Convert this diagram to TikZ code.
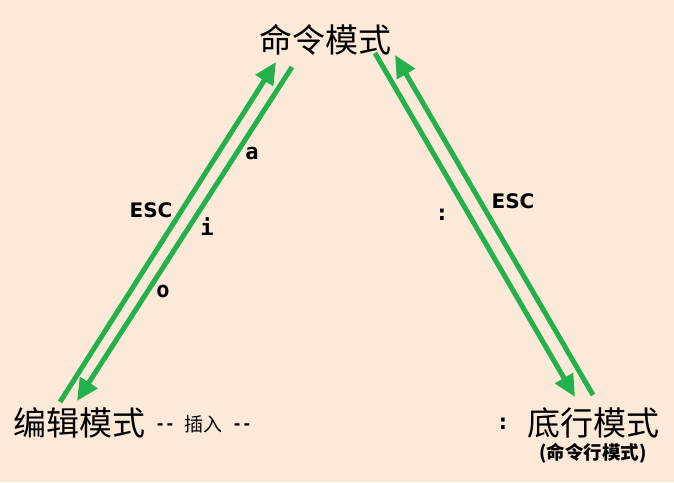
\documentclass[tikz,border=0pt]{standalone}
\usepackage{fontspec}
\newfontfamily\cjk{Noto Sans CJK SC}
\newfontfamily\keyfont{DejaVu Sans}
\newfontfamily\monofont{DejaVu Sans Mono}
\usetikzlibrary{arrows.meta}
\definecolor{peach}{RGB}{253,233,215}
\definecolor{vigreen}{RGB}{34,177,76}
\tikzset{
  modus/.style={font=\cjk\fontsize{33}{33}\selectfont, inner sep=0pt},
  keyname/.style={font=\keyfont\bfseries\fontsize{20}{20}\selectfont, inner sep=0pt},
  keychar/.style={font=\monofont\bfseries\fontsize{22}{22}\selectfont, inner sep=0pt},
  dashes/.style={font=\monofont\bfseries\fontsize{16}{16}\selectfont, inner sep=0pt},
  switch/.style={draw=vigreen, line width=5pt, -{Triangle[length=22pt, width=20pt]}}
}
\begin{document}
\begin{tikzpicture}[x=1pt, y=-1pt]
% Set the background
\fill[peach] (0, 0) rectangle (674, 482);
\useasboundingbox (0, 0) rectangle (674, 482);

% The three modes
\node[modus] (cmd) at (325, 40) {命令模式};
\node[modus] (edit) at (79, 423) {编辑模式};
\node[dashes] (insl) at (165, 427) {-{}-};
\node[font=\cjk\fontsize{19}{19}\selectfont, inner sep=0pt] (ins) at (203, 424) {插入};
\node[dashes] (insr) at (242, 427) {-{}-};
\node[keychar] (colon) at (503, 424) {:};
\node[modus] (last) at (593, 423) {底行模式};
\node[font=\cjk\bfseries\fontsize{18.5}{18.5}\selectfont, inner sep=0pt] (lastsub) at (593, 453) {(命令行模式)};

% Arrow ends
\coordinate (e1) at (60, 402);
\coordinate (c1) at (276, 62);
\coordinate (c2) at (292, 67);
\coordinate (e2) at (77, 401);
\coordinate (c3) at (375, 53);
\coordinate (l3) at (575, 397);
\coordinate (l4) at (593, 395);
\coordinate (c4) at (395, 55);

% Switching between the modes
\draw[switch] (e1) -- (c1);
\draw[switch] (c2) -- (e2);
\draw[switch] (c3) -- (l3);
\draw[switch] (l4) -- (c4);

% Keys
\node[keychar] (ka) at (252, 153) {a};
\node[keychar] (ki) at (207, 227) {i};
\node[keychar] (ko) at (163, 291) {o};
\node[keyname] (kesc) at (151, 210) {ESC};
\node[keychar] (kcolon) at (442, 215) {:};
\node[keyname] (kescr) at (513, 201) {ESC};
\end{tikzpicture}
\end{document}
